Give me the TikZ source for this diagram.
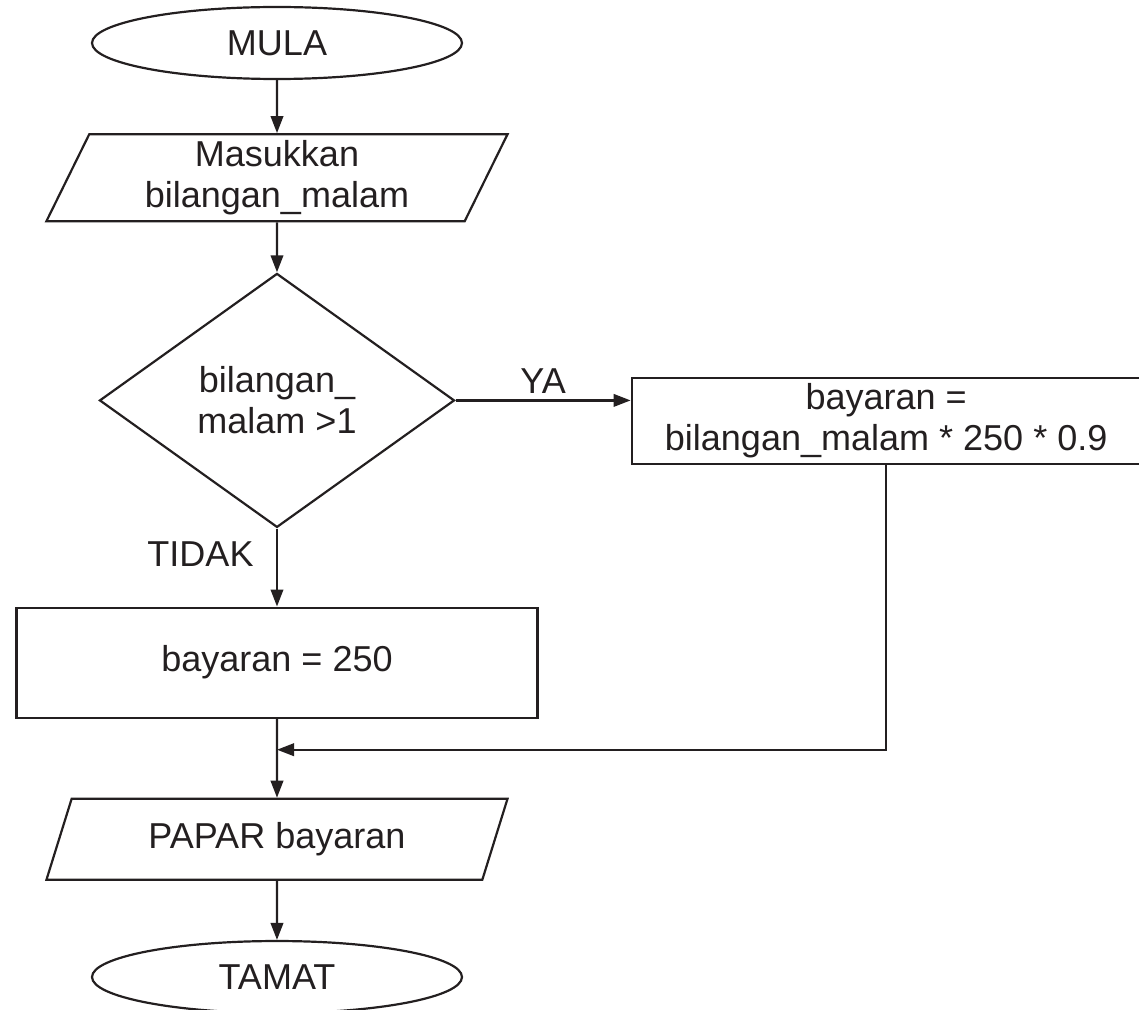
\documentclass[tikz,border=0pt]{standalone}
\usepackage{fontspec}
\setmainfont{Liberation Sans}
\usepackage{xcolor}
\usepackage{tikz}
\usetikzlibrary{shapes.geometric, arrows.meta, positioning}

\definecolor{ink}{HTML}{231F20}

\begin{document}
\begin{tikzpicture}[node distance=1.07cm, font=\fontsize{20.5}{23.5}\selectfont]
        % --- gaya ---
        \tikzstyle{terminal} = [
            ellipse,
            minimum width=7.4cm,
            minimum height=1.44cm,
            inner sep=0pt,
            draw=ink,
            line width=1.25pt,
            text=ink
        ]
        \tikzstyle{io} = [
            trapezium,
            trapezium left angle=70,
            trapezium right angle=110,
            trapezium stretches=true,
            minimum width=9.24cm,
            align=center,
            draw=ink,
            line width=1.25pt,
            text=ink
        ]
        \tikzstyle{decision} = [
            diamond,
            minimum width=7.1cm,
            minimum height=5.08cm,
            inner sep=0pt,
            align=center,
            draw=ink,
            line width=1.25pt,
            text=ink
        ]
        \tikzstyle{process} = [
            rectangle,
            align=center,
            draw=ink,
            line width=1.25pt,
            text=ink
        ]
        \tikzstyle{tag} = [text=ink]
        \tikzstyle{arrow} = [line width=1.25pt, draw=ink, -{Triangle[length=0.34cm, width=0.25cm]}]

        \useasboundingbox (-5.54,0.86) rectangle (17.24,-19.32);

        % --- nod (langkah) ---
        \node (mula) [terminal] at (0,0) {MULA};
        \node (masuk) [io, minimum height=1.74cm, below=1.06cm of mula] {Masukkan\\bilangan\_malam};
        \node (semak) [decision, below=1.0cm of masuk] {bilangan\_\\malam >1};
        \node (diskaun) [process, minimum width=10.18cm, minimum height=1.66cm, right=3.5cm of semak, yshift=-0.41cm] {bayaran =\\bilangan\_malam * 250 * 0.9};
        \node (biasa) [process, minimum width=10.42cm, minimum height=2.2cm, below=1.56cm of semak] {bayaran = 250};
        \coordinate [below=0.62cm of biasa] (cantum);
        \node (papar) [io, minimum height=1.62cm, below=1.58cm of biasa] {PAPAR bayaran};
        \node (tamat) [terminal, below=1.18cm of papar] {TAMAT};

        % --- sambungan ---
        \draw [arrow] (mula) -- (masuk);
        \draw [arrow] (masuk) -- (semak);
        \draw [arrow] (semak.east) -- (semak.east -| diskaun.west) node [tag, midway, above] {YA};
        \draw [arrow] (semak) -- (biasa) node [tag, pos=0.33, left=0.33cm] {TIDAK};
        \draw [arrow] (biasa) -- (papar);
        \draw [arrow] (diskaun.south) |- (cantum);
        \draw [arrow] (papar) -- (tamat);
    \end{tikzpicture}
\end{document}
